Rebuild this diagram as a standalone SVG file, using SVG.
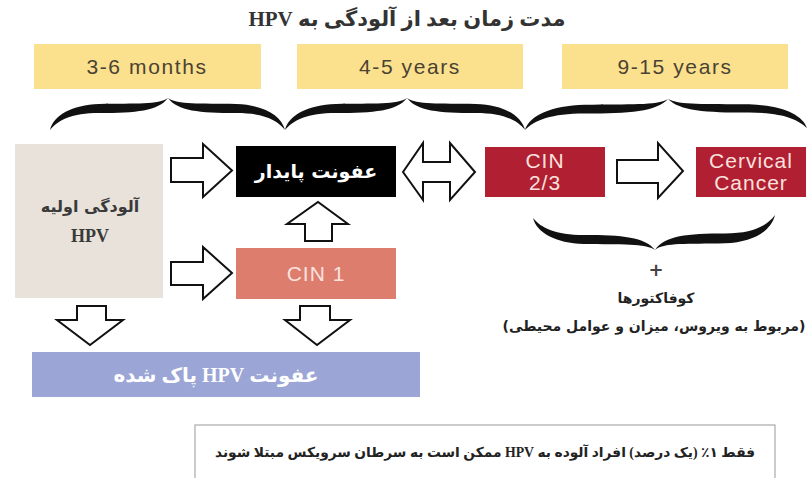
<svg xmlns="http://www.w3.org/2000/svg" width="810" height="478" viewBox="0 0 810 478">
<style>
.per{font-family:"DejaVu Sans","Noto Sans",sans-serif;font-weight:bold;direction:rtl;text-anchor:middle}
.mix{font-family:"Liberation Serif","DejaVu Sans",serif;font-weight:bold;direction:rtl;text-anchor:middle}
.yl{fill:#fbe08e}
.yt{font-family:"Liberation Sans",Arial,sans-serif;font-size:21px;fill:#4a4232;text-anchor:middle;letter-spacing:1.6px}
.wt{font-family:"Liberation Sans",Arial,sans-serif;font-size:21px;fill:#fbe2de;text-anchor:middle;letter-spacing:1px}
.arr{fill:#fff;stroke:#111;stroke-width:2;stroke-linejoin:miter}
.br{fill:#111}
</style>
<defs>
<path id="hb" d="M0,0 C4,-15 22,-25 50,-26 C88,-27 110,-25 120,-32 C110,-19 88,-17 50,-17 C22,-17 8,-10 0,0 Z"/>
</defs>
<rect width="810" height="478" fill="#fff"/>
<text class="mix" x="407" y="26" font-size="21" fill="#333">مدت زمان بعد از آلودگی به HPV</text>

<g id="period1"><rect class="yl" x="34" y="44" width="227" height="45"/><text class="yt" x="147" y="74">3-6 months</text></g>
<g id="period2"><rect class="yl" x="297" y="44" width="226" height="45"/><text class="yt" x="410" y="74">4-5 years</text></g>
<g id="period3"><rect class="yl" x="562" y="44" width="226" height="45"/><text class="yt" x="675" y="74">9-15 years</text></g>

<g id="braces">
<use href="#hb" class="br" transform="translate(50,130) scale(0.983,1)"/>
<use href="#hb" class="br" transform="translate(285,130) scale(-0.975,1)"/>
<use href="#hb" class="br" transform="translate(285,130) scale(1.017,1)"/>
<use href="#hb" class="br" transform="translate(525,130) scale(-0.983,1)"/>
<use href="#hb" class="br" transform="translate(525,130) scale(1.192,0.97)"/>
<use href="#hb" class="br" transform="translate(807,128) scale(-1.158,0.91)"/>
<use href="#hb" class="br" transform="translate(533,218) scale(1.017,-1)"/>
<use href="#hb" class="br" transform="translate(775,215) scale(-1,-1.09)"/>
</g>

<g id="initial"><rect x="15" y="144" width="148" height="154" fill="#e8e2db"/>
<text class="per" x="90" y="212" font-size="16" fill="#3a3a3a">آلودگی اولیه</text>
<text x="90" y="242" font-family="Liberation Serif,serif" font-weight="bold" font-size="18" fill="#3a3a3a" text-anchor="middle">HPV</text></g>

<g id="persistent"><rect x="236" y="146" width="160" height="51" fill="#000"/>
<text class="per" x="316" y="178" font-size="19" fill="#fff">عفونت پایدار</text></g>

<g id="cin1"><rect x="236" y="248" width="160" height="51" fill="#dc7d6e"/>
<text class="wt" x="316" y="281">CIN 1</text></g>

<g id="cin23"><rect x="485" y="147" width="120" height="50" fill="#b11f32"/>
<text class="wt" x="545" y="168">CIN</text><text class="wt" x="545" y="190">2/3</text></g>

<g id="cancer"><rect x="696" y="147" width="110" height="50" fill="#b11f32"/>
<text class="wt" x="751" y="168">Cervical</text><text class="wt" x="751" y="190">Cancer</text></g>

<g id="cleared"><rect x="32" y="352" width="388" height="45" fill="#9ba5d6"/>
<text class="mix" x="216" y="382" font-size="20" fill="#fff">عفونت HPV پاک شده</text></g>

<g id="cofactors">
<text class="per" x="656" y="276" font-size="18" font-weight="normal" fill="#444">+</text>
<text class="per" x="656" y="303" font-size="14" fill="#222">کوفاکتورها</text>
<text class="per" x="654" y="331" font-size="14" fill="#222">(مربوط به ویروس، میزان و عوامل محیطی)</text>
</g>

<g id="note"><rect x="195" y="425" width="580" height="70" fill="#fff" stroke="#aaa" stroke-width="1.2"/>
<text class="mix" x="485" y="457" font-size="13.8" fill="#222">فقط ۱٪ (یک درصد) افراد آلوده به HPV ممکن است به سرطان سرویکس مبتلا شوند</text></g>

<g id="connectors">
<path class="arr" d="M171,158 H203 V144 L232,170.5 L203,197 V182 H171 Z"/>
<path class="arr" d="M171,262 H203 V247 L232,273 L203,299 V285 H171 Z"/>
<path class="arr" d="M305,241 V224 H287 L318,202 L348,224 H332 V241 Z"/>
<path class="arr" d="M403,172 L423,143 V162 H450 V143 L475,172 L450,200 V182 H423 V200 Z"/>
<path class="arr" d="M617,160 H658 V143 L683,171 L658,198 V183 H617 Z"/>
<path class="arr" d="M77,306 H106 V320 H123 L90,345 L57,320 H77 Z"/>
<path class="arr" d="M300,306 H330 V320 H350 L317,345 L285,320 H300 Z"/>
</g>
</svg>
